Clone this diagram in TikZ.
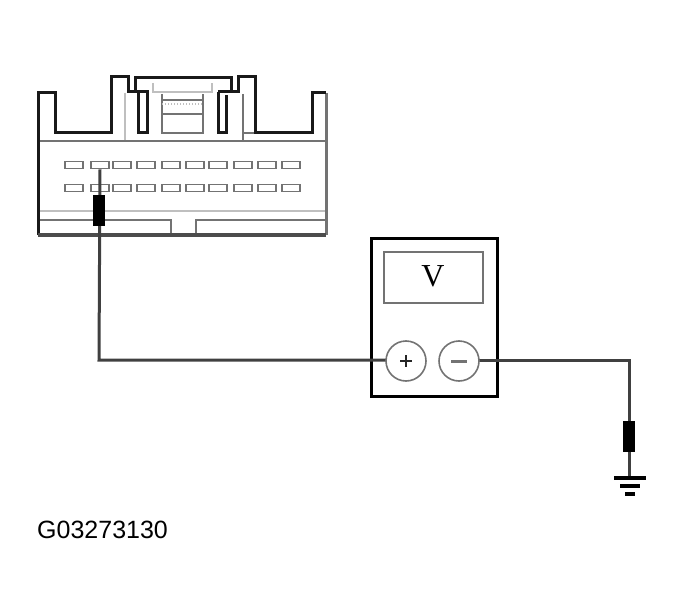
\documentclass[tikz,border=0pt]{standalone}
\usepackage{fontspec}
\setmainfont{Liberation Sans}
\newfontfamily\voltfont{Liberation Serif}
\usetikzlibrary{calc}
\definecolor{midgray}{gray}{0.45}
\definecolor{lightgray}{gray}{0.75}
\tikzset{
  outline/.style={line width=3pt,black!90,line join=miter},
  thinline/.style={line width=2pt,midgray},
  faint/.style={line width=2.5pt,lightgray},
  wire/.style={line width=3pt,black!75},
  pinbox/.style={draw=midgray,line width=1.6pt,minimum width=18pt,minimum height=7pt,inner sep=0pt},
  probe/.style={fill=black,minimum width=12pt,minimum height=31pt,inner sep=0pt},
  jack/.style={circle,draw=midgray,line width=1.6pt,minimum size=40pt,inner sep=0pt,fill=white}
}
\begin{document}
\begin{tikzpicture}[x=1pt,y=-1pt]
  \useasboundingbox (0,0) rectangle (685,615);
  % connector
  \draw[faint]    (38,211) -- (326,211);
  \draw[faint]    (125,93) -- (125,141)
                  (153,83) -- (153,92) -- (212,92) -- (212,83);
  \draw[thinline] (38,141) -- (326,141)
                  (243,94) -- (243,141) (243,133) -- (255,133)
                  (162,94) -- (162,133) -- (203,133) -- (203,94)
                  (162,100) -- (203,100)
                  (162,114) -- (203,114)
                  (38,220) -- (171,220) -- (171,235)
                  (326,220) -- (196,220) -- (196,235);
  \draw[line width=1.5pt,lightgray,dash pattern=on 1pt off 2pt] (162,104) -- (203,104);
  \draw[line width=3pt,midgray] (326,93) -- (326,235);
  \draw[outline]  (38,235) -- (38,93) -- (55,93) -- (55,133) -- (111,133) -- (111,77)
                  -- (128,77) -- (128,92) -- (147,92) -- (147,133) -- (138,133) -- (138,92)
                  (135,92) -- (135,78) -- (231,78) -- (231,92)
                  (218,92) -- (238,92) -- (238,77) -- (255,77) -- (255,133) -- (312,133)
                  -- (312,93) -- (326,93)
                  (218,92) -- (218,133) -- (226,133) -- (226,95);
  \draw[line width=3.5pt,black!70] (38,235) -- (326,235);
  \foreach \name/\px in {a/74,b/100,c/122,d/146,e/171,f/195,g/218,h/243,i/267,j/291} {
    \node[pinbox] (top\name) at (\px,165) {};
    \node[pinbox] (low\name) at (\px,188) {};
  }
  % meter
  \draw[line width=3pt,black] (371,238) rectangle (497,396);
  \draw[thinline] (384,252) rectangle (483,303);
  \node[font=\fontsize{32}{32}\selectfont\voltfont,inner sep=0pt] (volt) at (433,276) {V};
  \coordinate (bendl) at (99,360);
  \coordinate (bendr) at (629,360);
  \coordinate (gnd) at (629,478);
  \draw[wire] (topb.south) -- (bendl) -- (405,360);
  \draw[wire] (459,360) -- (bendr) -- (gnd);
  \node[jack] (plus) at (406,361) {};
  \node[jack] (minus) at (459,361) {};
  \draw[line width=2.5pt,black!85] ($(plus)+(-6,0)$) -- ($(plus)+(6,0)$)
        ($(plus)+(0,-6)$) -- ($(plus)+(0,6)$);
  \draw[line width=3pt,midgray] ($(minus)+(-8,0)$) -- ($(minus)+(8,0)$);
  % probes and ground
  \node[probe] (tipl) at (99,210) {};
  \node[probe] (tipr) at (629,436) {};
  \draw[line width=3.5pt,black] (614,478) -- (646,478)
        (620,486) -- (640,486)
        (625,494) -- (635,494);
  \node[anchor=base west,font=\fontsize{25}{25}\selectfont,inner sep=0pt] (code) at (37,538) {G03273130};
\end{tikzpicture}
\end{document}
